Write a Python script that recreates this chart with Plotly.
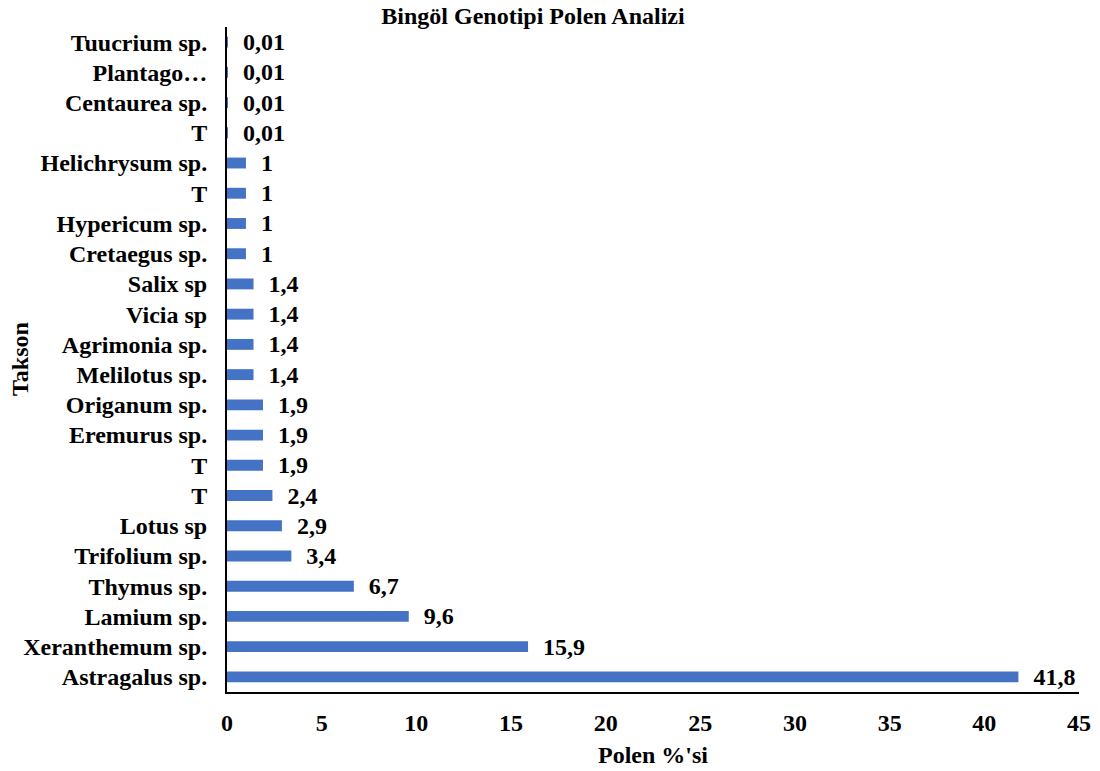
import plotly.graph_objects as go

taxa = ["Astragalus sp.", "Xeranthemum sp.", "Lamium sp.", "Thymus sp.", "Trifolium sp.",
        "Lotus sp", "T", "T", "Eremurus sp.", "Origanum sp.", "Melilotus sp.", "Agrimonia sp.",
        "Vicia sp", "Salix sp", "Cretaegus sp.", "Hypericum sp.", "T", "Helichrysum sp.",
        "T", "Centaurea sp.", "Plantago…", "Tuucrium sp."]
values = [41.8, 15.9, 9.6, 6.7, 3.4, 2.9, 2.4, 1.9, 1.9, 1.9, 1.4, 1.4,
          1.4, 1.4, 1, 1, 1, 1, 0.01, 0.01, 0.01, 0.01]
x_ticks = [0, 5, 10, 15, 20, 25, 30, 35, 40, 45]

positions = list(range(len(taxa)))
labels = ["\u00a0\u00a0<b>" + ("%g" % v).replace(".", ",") + "</b>" for v in values]

FONT = "Liberation Serif, Times New Roman, serif"
FS = 24

fig = go.Figure(go.Bar(
    x=values, y=positions, orientation="h",
    marker=dict(color="#4472C4", line=dict(width=0)),
    width=0.36,
    text=labels, textposition="outside", cliponaxis=False,
    constraintext="none",
    outsidetextfont=dict(family=FONT, size=FS, color="black"),
))

fig.update_layout(
    width=1100, height=771,
    margin=dict(l=227, r=21, t=27, b=79, autoexpand=False),
    plot_bgcolor="white", paper_bgcolor="white",
    showlegend=False,
    font=dict(family=FONT, size=FS, color="black"),
    title=dict(text="<b>Bingöl Genotipi Polen Analizi</b>", x=533/1100, xref="container",
               xanchor="center", y=1 - 16/771, yref="container", yanchor="middle",
               font=dict(family=FONT, size=FS, color="black")),
    xaxis=dict(range=[0, 45], tickvals=x_ticks,
               ticktext=["<b>%d</b>" % t for t in x_ticks],
               showgrid=False, zeroline=False, showline=True, linecolor="black", linewidth=2,
               ticks="", ticklabelstandoff=8, automargin=False),
    yaxis=dict(range=[-0.5, len(taxa) - 0.5], tickvals=positions,
               ticktext=["<b>%s</b>" % t for t in taxa],
               showgrid=False, zeroline=False, showline=True, linecolor="black", linewidth=2,
               ticks="", ticklabelstandoff=13, automargin=False),
    annotations=[
        dict(text="<b>Polen %'si</b>", xref="paper", yref="paper", x=0.5, y=-(755 - 692) / 665,
             xanchor="center", yanchor="middle", showarrow=False,
             font=dict(family=FONT, size=FS, color="black")),
        dict(text="<b>Takson</b>", xref="paper", yref="paper", x=-(227 - 20) / 852, y=(692 - 359) / 665,
             xanchor="center", yanchor="middle", showarrow=False, textangle=-90,
             font=dict(family=FONT, size=FS, color="black")),
    ],
)

fig.write_html("out.html", config={"displayModeBar": False},
               post_script="document.body.style.margin='0';document.body.style.overflow='hidden';")
